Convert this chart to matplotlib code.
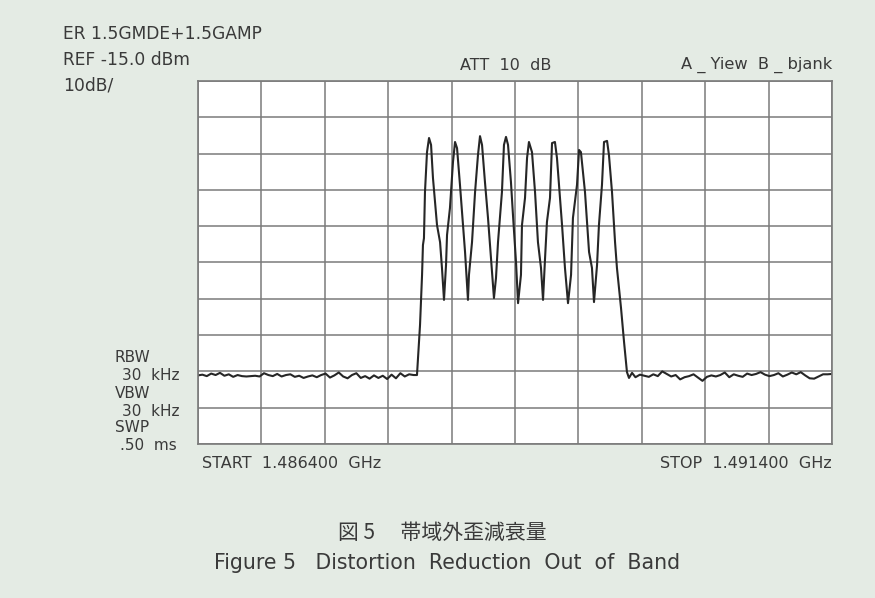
# 帯域外歪減衰量 - spektrum zo spektralneho analyzatora (obr. 5)
import numpy as np
import matplotlib
matplotlib.use("Agg")
import matplotlib.pyplot as plt

# nastavenie analyzatora
F_START = 1486.4   # MHz
F_STOP = 1491.4    # MHz
REF_LEVEL = -15.0  # dBm
DB_PER_DIV = 10.0

# sum vlavo od pasma (dBm)
noise_left = [-96.1, -95.9, -96.3, -95.6, -96.0, -95.4, -96.2, -95.8, -96.5, -96.0,
              -96.3, -96.4, -96.3, -96.2, -96.4, -95.5, -96.0, -96.3, -95.7, -96.4,
              -96.0, -95.8, -96.5, -96.2, -96.8, -96.4, -96.1, -96.6, -96.0, -95.6,
              -96.7, -96.1, -95.3, -96.4, -96.9, -96.0, -95.5, -96.8, -96.3, -97.0,
              -96.1, -96.8, -96.2, -97.1, -95.9, -96.9, -95.5, -96.4, -95.8, -96.0]
noise_left_f = np.linspace(1486.40, 1488.10, len(noise_left))

# 8 nosnych v pasme - frekvencia (MHz) a uroven (dBm)
band_f = [1488.127, 1488.151, 1488.167, 1488.174, 1488.182, 1488.190, 1488.206, 1488.222,
          1488.238, 1488.253, 1488.285, 1488.309, 1488.324, 1488.340, 1488.356, 1488.364,
          1488.387, 1488.411, 1488.427, 1488.443, 1488.466, 1488.490, 1488.506, 1488.529,
          1488.537, 1488.561, 1488.585, 1488.608, 1488.624, 1488.640, 1488.663, 1488.687,
          1488.711, 1488.734, 1488.750, 1488.766, 1488.797, 1488.813, 1488.829, 1488.845,
          1488.868, 1488.884, 1488.908, 1488.924, 1488.947, 1488.955, 1488.979, 1488.995,
          1489.010, 1489.034, 1489.058, 1489.081, 1489.105, 1489.121, 1489.137, 1489.152,
          1489.176, 1489.192, 1489.215, 1489.231, 1489.271, 1489.294, 1489.318, 1489.342,
          1489.357, 1489.389, 1489.405, 1489.420, 1489.452, 1489.484, 1489.507, 1489.523,
          1489.547, 1489.562, 1489.586, 1489.602, 1489.626, 1489.641, 1489.665, 1489.689,
          1489.704, 1489.736, 1489.760, 1489.783, 1489.799, 1489.823]
band_db = [-96.0, -82.2, -68.4, -60.2, -58.3, -45.6, -34.6, -30.7,
           -32.6, -41.7, -54.7, -59.4, -66.5, -75.3, -65.7, -57.4,
           -50.0, -37.3, -31.8, -33.5, -43.6, -54.7, -62.1, -75.3,
           -68.4, -59.4, -45.6, -35.4, -30.2, -32.6, -42.8, -52.7,
           -63.8, -74.8, -69.3, -59.4, -45.6, -32.6, -30.4, -32.6,
           -42.8, -51.9, -64.9, -76.2, -68.4, -54.7, -47.2, -36.2,
           -31.8, -34.6, -45.6, -59.4, -66.5, -75.3, -63.8, -53.8,
           -47.2, -32.1, -31.8, -36.2, -54.7, -66.5, -76.2, -68.4,
           -52.7, -43.6, -34.0, -34.6, -45.6, -62.1, -66.5, -75.9,
           -65.7, -54.7, -43.6, -31.8, -31.5, -35.4, -45.6, -59.4,
           -66.5, -77.5, -86.9, -95.2, -96.8, -95.4]

# sum vpravo od pasma (dBm)
noise_right = [-96.6, -95.9, -96.2, -96.5, -95.8, -96.3, -95.0, -95.7, -96.4, -96.0,
               -97.2, -96.6, -96.3, -95.8, -96.7, -97.6, -96.5, -96.1, -96.4, -96.0,
               -95.3, -96.6, -95.8, -96.2, -96.5, -95.6, -96.0, -95.7, -95.2, -95.9,
               -96.3, -96.0, -95.5, -96.4, -95.9, -95.3, -95.8, -95.2, -96.1, -96.9,
               -97.0, -96.4, -95.8, -95.8, -95.7]
noise_right_f = np.linspace(1489.85, 1491.40, len(noise_right))

freq = np.concatenate([noise_left_f, band_f, noise_right_f])
level = np.concatenate([noise_left, band_db, noise_right])

BG = "#e4ebe4"
TXT = "#3a3a3a"
GRID = "#7a7a7a"

fig = plt.figure(figsize=(8.75, 5.98), dpi=100, facecolor=BG)
ax = fig.add_axes([198 / 875, 154 / 598, 634 / 875, 363 / 598])
ax.set_facecolor("white")

ax.plot(freq, level, color="#262626", linewidth=1.5)

ax.set_xlim(F_START, F_STOP)
ax.set_ylim(REF_LEVEL - 10 * DB_PER_DIV, REF_LEVEL)
ax.set_xticks(np.linspace(F_START, F_STOP, 11))
ax.set_yticks(np.arange(REF_LEVEL - 10 * DB_PER_DIV, REF_LEVEL + 1, DB_PER_DIV))
ax.tick_params(length=0, labelbottom=False, labelleft=False)
ax.grid(True, color=GRID, linewidth=1.1)
for s in ax.spines.values():
    s.set_color(GRID)
    s.set_linewidth(1.2)

# popisy analyzatora
def t(x, y, s, ha="left", size=11.5, **kw):
    fig.text(x / 875, 1 - y / 598, s, ha=ha, va="center", fontsize=size,
             color=TXT, family="DejaVu Sans", **kw)

t(63, 34, "ER 1.5GMDE+1.5GAMP", size=12.3)
t(63, 60, "REF -15.0 dBm", size=12.3)
t(63, 85, "10dB/", size=12.3)
t(460, 65, "ATT  10  dB")
t(832, 65, "A _ Yiew  B _ bjank", ha="right", size=11.7)

t(115, 357, "RBW", size=11)
t(180, 376, "30  kHz", ha="right", size=11)
t(115, 393, "VBW", size=11)
t(180, 411, "30  kHz", ha="right", size=11)
t(115, 428, "SWP", size=11)
t(177, 446, ".50  ms", ha="right", size=11)

t(202, 463, "START  1.486400  GHz")
t(832, 463, "STOP  1.491400  GHz", ha="right")

# titulok
fig.text(442 / 875, 1 - 533 / 598, "図 5　 帯域外歪減衰量", ha="center", va="center",
         fontsize=15, color=TXT, family=["Noto Sans CJK JP", "DejaVu Sans"])
fig.text(447 / 875, 1 - 563 / 598, "Figure 5   Distortion  Reduction  Out  of  Band",
         ha="center", va="center", fontsize=14.8, color=TXT, family="DejaVu Sans")

plt.savefig("out.png", dpi=100, facecolor=BG)
